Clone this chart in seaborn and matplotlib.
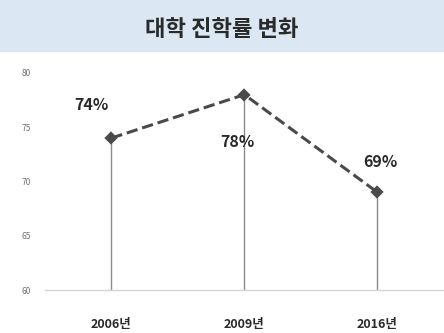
import matplotlib
matplotlib.use("Agg")
import matplotlib.pyplot as plt
import seaborn as sns
import pandas as pd
from matplotlib.patches import Rectangle

# data
years = ["2006년", "2009년", "2016년"]
rates = [74, 78, 69]
labels = ["74%", "78%", "69%"]
y_ticks = [60, 65, 70, 75, 80]

sns.set_style("white")
plt.rcParams["font.family"] = ["Noto Sans CJK KR", "DejaVu Sans"]

df = pd.DataFrame({"year": years, "rate": rates})

fig = plt.figure(figsize=(4.44, 3.33), dpi=100)

# title band
fig.patches.append(Rectangle((0, 0.845), 1, 0.155, transform=fig.transFigure,
                             facecolor="#dbe8f4", edgecolor="none", zorder=0))
fig.text(0.5, 0.912, "대학 진학률 변화", ha="center", va="center",
         fontsize=16, fontweight="bold", color="#2a2a2a")

ax = fig.add_axes([0.101, 0.129, 0.899, 0.652])

# stems
ax.vlines(range(len(rates)), 60, rates, color="#8a8a8a", linewidth=1.0, zorder=1)

sns.pointplot(data=df, x="year", y="rate", ax=ax, color="#4a4a4a",
              markers="D", linestyles="--", markersize=5, linewidth=2.2)

# value labels
offsets = [(-0.15, 3.0), (-0.05, -4.4), (0.02, 2.8)]
for i, (lab, (dx, dy)) in enumerate(zip(labels, offsets)):
    ax.text(i + dx, rates[i] + dy, lab, ha="center", va="center",
            fontsize=11.5, fontweight="semibold", color="#2a2a2a")

ax.set_ylim(60, 80)
ax.set_xlim(-0.5, 2.5)
ax.set_yticks(y_ticks)
ax.tick_params(axis="y", labelsize=6, colors="#707070", length=0, pad=10)
ax.tick_params(axis="x", labelsize=9, colors="#2a2a2a", length=0, pad=20)
for t in ax.get_xticklabels():
    t.set_fontweight("bold")
ax.set_xlabel("")
ax.set_ylabel("")
for s in ["top", "right", "left"]:
    ax.spines[s].set_visible(False)
ax.spines["bottom"].set_color("#d5d5d5")
ax.spines["bottom"].set_linewidth(1.0)

fig.savefig("out.png", dpi=100)
